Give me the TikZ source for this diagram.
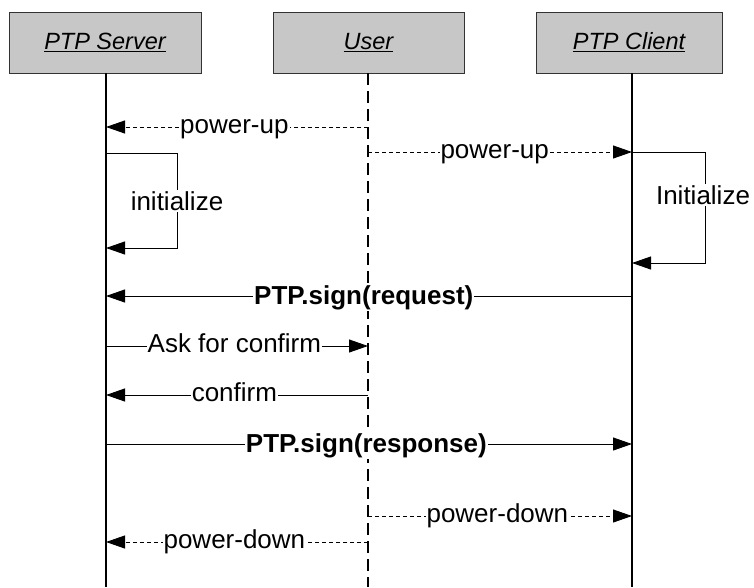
\documentclass[tikz,border=0pt]{standalone}
\usepackage{fontspec}
\setmainfont{Liberation Sans}
\usetikzlibrary{arrows.meta}
\begin{document}
\begin{tikzpicture}[x=1pt,y=-1pt,
  objbox/.style={draw=black!80,line width=0.8pt,fill=black!22,minimum width=#1,minimum height=61pt,inner sep=0pt,
    font=\fontsize{23.5}{28}\selectfont\itshape},
  lifesolid/.style={line width=2.6pt},
  lifedash/.style={line width=1.3pt,dash pattern=on 12pt off 6pt},
  msg/.style={line width=0.9pt,-{Triangle[length=19pt,width=13pt]}},
  msgdash/.style={msg,dash pattern=on 4pt off 3pt},
  loopline/.style={line width=0.9pt,-{Triangle[length=19pt,width=13pt]}},
  looplbl/.style={fill=white,inner sep=1pt,font=\fontsize{26}{30}\selectfont},
  lbl/.style={looplbl,anchor=base,yshift=-6.8pt},
  blbl/.style={looplbl,anchor=base,yshift=-8.5pt,font=\fontsize{26}{30}\selectfont\bfseries}]
\useasboundingbox (0,0) rectangle (754,587);

% participants
\node[objbox=192pt] (srv) at (105,42.5) {\underline{PTP Server}};
\node[objbox=191pt] (usr) at (368.5,42.5) {\underline{User}};
\node[objbox=186pt] (cli) at (629,42.5) {\underline{PTP Client}};

% lifelines
\coordinate (srvEnd) at (106,587);
\coordinate (usrEnd) at (368,587);
\coordinate (cliEnd) at (632,587);
\draw[lifesolid] (srvEnd |- srv.south) -- (srvEnd);
\draw[lifedash] (usrEnd |- usr.south) -- (usrEnd);
\draw[lifesolid] (cliEnd |- cli.south) -- (cliEnd);

% message anchor points on the lifelines
\coordinate (s1) at (106,127);  \coordinate (u1) at (368,127);
\coordinate (u2) at (368,152);  \coordinate (c2) at (632,152);
\coordinate (s3) at (106,153);  \coordinate (s3b) at (106,248);
\coordinate (l3a) at (177,153); \coordinate (l3b) at (177,248);
\coordinate (c4b) at (632,263);
\coordinate (l4a) at (705,152); \coordinate (l4b) at (705,263);
\coordinate (s5) at (106,296);  \coordinate (c5) at (632,296);
\coordinate (s6) at (106,346);  \coordinate (u6) at (368,346);
\coordinate (s7) at (106,395);  \coordinate (u7) at (368,395);
\coordinate (s8) at (106,444);  \coordinate (c8) at (632,444);
\coordinate (u9) at (368,516);  \coordinate (c9) at (632,516);
\coordinate (s10) at (106,542); \coordinate (u10) at (368,542);

% power-up
\draw[msgdash] (u1) -- node[lbl,pos=0.51] {power-up} (s1);
\draw[msgdash] (u2) -- node[lbl,pos=0.48] {power-up} (c2);

% self initialisation
\draw[loopline] (s3) -- (l3a) -- (l3b) -- (s3b);
\node[looplbl] (initS) at (177,201) {initialize};
\draw[loopline] (c2) -- (l4a) -- (l4b) -- (c4b);
\node[looplbl] (initC) at (703,195) {Initialize};

% signing exchange
\draw[msg] (c5) -- node[blbl,pos=0.51] {PTP.sign(request)} (s5);
\draw[msg] (s6) -- node[lbl,pos=0.49] {Ask for confirm} (u6);
\draw[msg] (u7) -- node[lbl,pos=0.51] {confirm} (s7);
\draw[msg] (s8) -- node[blbl,pos=0.495] {PTP.sign(response)} (c8);

% power-down
\draw[msgdash] (u9) -- node[lbl,pos=0.49] {power-down} (c9);
\draw[msgdash] (u10) -- node[lbl,pos=0.51] {power-down} (s10);
\end{tikzpicture}
\end{document}
